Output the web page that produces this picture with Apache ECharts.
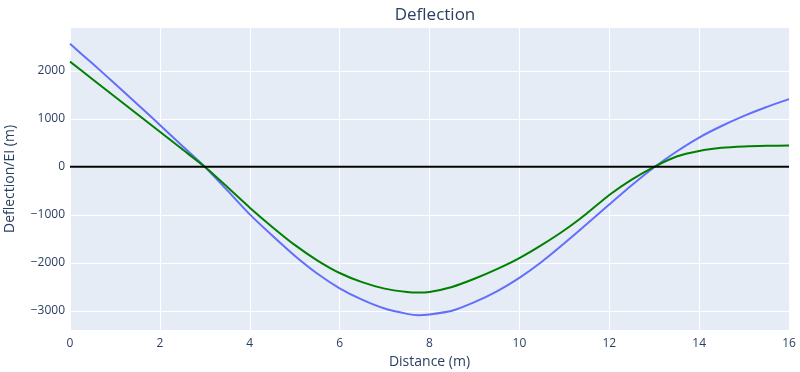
<!DOCTYPE html>
<html>
<head>
<meta charset="utf-8">
<script src="https://cdn.jsdelivr.net/npm/echarts@6/dist/echarts.min.js"></script>
<style>html,body{margin:0;padding:0;background:#fff;}#c{width:800px;height:372px;}</style>
</head>
<body>
<div id="c"></div>
<script>
const distance = [0,0.5,1,1.5,2,2.5,3,3.5,4,4.5,5,5.5,6,6.5,7,7.5,7.75,8,8.5,9,9.5,10,10.5,11,11.5,12,12.5,13,13.5,14,14.5,15,15.5,16];
const blueValues = [2560,2150,1730,1305,870,435,0,-490,-990,-1430,-1850,-2220,-2528,-2765,-2950,-3060,-3088,-3072,-2995,-2815,-2590,-2310,-1975,-1590,-1190,-785,-385,-10,320,610,850,1060,1245,1410];
const greenValues = [2190,1825,1460,1095,730,365,0,-420,-850,-1250,-1625,-1945,-2210,-2400,-2535,-2606,-2618,-2604,-2500,-2330,-2130,-1900,-1625,-1320,-970,-585,-265,0,215,330,395,425,438,442];
const xTicks = [0,2,4,6,8,10,12,14,16];
const yTicks = [-3000,-2000,-1000,0,1000,2000];
const zeroLine = [[0,0],[16,0]];

const pair = (ys) => distance.map((x,i)=>[x, ys[i]]);
const fmt = v => String(v).replace('-', '\u2212');
const font = '"Open Sans", verdana, arial, sans-serif';

const chart = echarts.init(document.getElementById('c'), null, {renderer:'canvas'});
chart.setOption({
  animation:false,
  backgroundColor:'#fff',
  title:{text:'Deflection', left:430, top:2, textAlign:'center',
    textStyle:{fontFamily:font, fontSize:17, fontWeight:'normal', color:'#2a3f5f'}},
  grid:{left:70, right:11, top:28, bottom:42, show:true, backgroundColor:'#E5ECF6', borderWidth:0,
    outerBoundsMode:'none', containLabel:false},
  xAxis:{type:'value', min:0, max:16, interval:2,
    name:'Distance (m)', nameLocation:'middle', nameGap:25,
    nameTextStyle:{fontFamily:font, fontSize:14, color:'#2a3f5f'},
    axisLine:{show:false}, axisTick:{show:false},
    axisLabel:{fontFamily:font, fontSize:12, color:'#2a3f5f', margin:8, customValues:xTicks},
    splitLine:{show:true, lineStyle:{color:'#fff', width:1}}},
  yAxis:{type:'value', min:-3396, max:2890,
    name:'Deflection/EI (m)', nameLocation:'middle', nameGap:53, nameRotate:90,
    nameTextStyle:{fontFamily:font, fontSize:14, color:'#2a3f5f'},
    axisLine:{show:false},
    axisTick:{show:false, customValues:yTicks},
    axisLabel:{fontFamily:font, fontSize:12, color:'#2a3f5f', margin:5, customValues:yTicks, formatter:fmt},
    splitLine:{show:true, lineStyle:{color:'#fff', width:1}}},
  series:[
    {type:'line', data:pair(blueValues), showSymbol:false, smooth:0.2,
      lineStyle:{color:'#636EFA', width:2}, z:2},
    {type:'line', data:pair(greenValues), showSymbol:false, smooth:0.2,
      lineStyle:{color:'#008000', width:2}, z:3},
    {type:'line', data:zeroLine, showSymbol:false,
      lineStyle:{color:'#000', width:2}, z:4}
  ]
});
</script>
</body>
</html>
